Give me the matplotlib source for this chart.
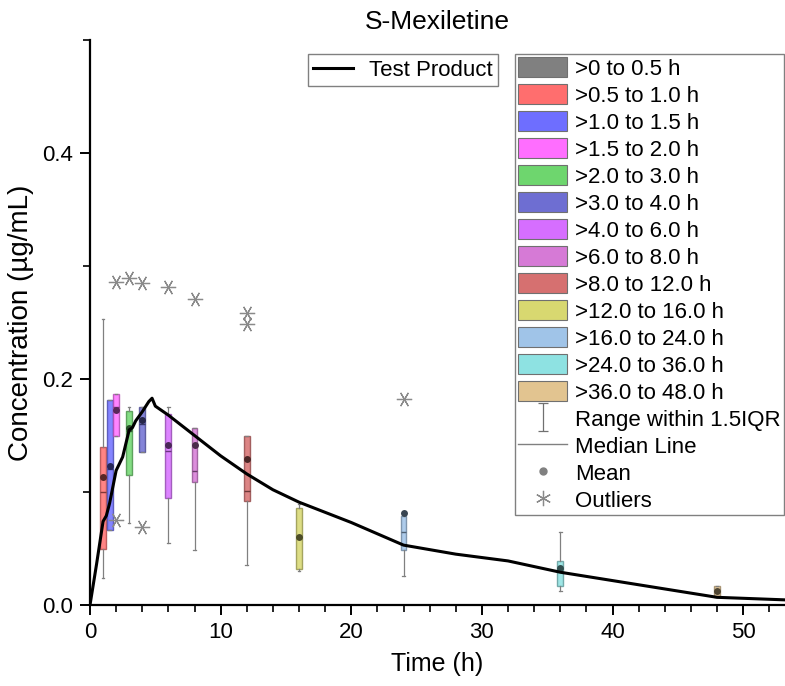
import numpy as np
import matplotlib
matplotlib.use("Agg")
import matplotlib.pyplot as plt
from matplotlib.patches import Patch
from matplotlib.lines import Line2D
from matplotlib.path import Path
from matplotlib.ticker import MultipleLocator

plt.rcParams['font.family'] = ['Liberation Sans', 'DejaVu Sans']

# Mean profile of the test product
t_line = [0, 0.5, 1, 1.25, 1.5, 2, 2.5, 3, 3.25, 3.5, 4, 4.5, 4.75, 5, 6, 8,
          10, 12, 14, 16, 20, 24, 28, 32, 36, 48, 54]
c_line = [0, 0.036, 0.074, 0.079, 0.090, 0.119, 0.131, 0.155, 0.157, 0.163, 0.171,
          0.180, 0.183, 0.176, 0.168, 0.150, 0.132, 0.116, 0.102, 0.091, 0.073,
          0.053, 0.045, 0.039, 0.029, 0.0068, 0.0042]

# Box statistics per time window
bin_labels = ['>0 to 0.5 h', '>0.5 to 1.0 h', '>1.0 to 1.5 h', '>1.5 to 2.0 h',
              '>2.0 to 3.0 h', '>3.0 to 4.0 h', '>4.0 to 6.0 h', '>6.0 to 8.0 h',
              '>8.0 to 12.0 h', '>12.0 to 16.0 h', '>16.0 to 24.0 h',
              '>24.0 to 36.0 h', '>36.0 to 48.0 h']
bin_colors = ['#808080', '#ff6e6e', '#6e6eff', '#ff6eff', '#6ed66e', '#6e6ed2',
              '#d66eff', '#d67ad6', '#d67070', '#d8d870', '#a0c4e8', '#8ee2e2',
              '#e2c490']

box_t = [1, 1.5, 2, 3, 4, 6, 8, 12, 16, 24, 36, 48]
box_q1 = [0.050, 0.066, 0.150, 0.115, 0.135, 0.095, 0.109, 0.092, 0.032, 0.0485, 0.017, 0.0073]
box_q3 = [0.140, 0.181, 0.187, 0.172, 0.175, 0.169, 0.157, 0.150, 0.086, 0.0785, 0.039, 0.0168]
box_med = [0.100, 0.120, 0.175, 0.154, 0.160, 0.136, 0.119, 0.101, 0.060, 0.065, 0.032, 0.012]
box_mean = [0.113, 0.123, 0.173, 0.157, 0.164, 0.142, 0.142, 0.129, 0.060, 0.081, 0.033, 0.012]
box_lo = [0.024, 0.066, 0.150, 0.073, 0.135, 0.055, 0.049, 0.035, 0.030, 0.026, 0.012, 0.0073]
box_hi = [0.253, 0.181, 0.187, 0.175, 0.175, 0.175, 0.157, 0.150, 0.089, 0.082, 0.065, 0.0168]
box_out = [[], [], [0.286, 0.075], [0.289], [0.285, 0.069], [0.281], [0.271],
           [0.258, 0.249], [], [0.182], [], []]

fig = plt.figure(figsize=(7.85, 6.86), dpi=100)
ax = fig.add_axes([90/785, 1 - 605/686, 695/785, 565/686])

stats = []
for i in range(len(box_t)):
    stats.append(dict(med=box_med[i], q1=box_q1[i], q3=box_q3[i],
                      whislo=box_lo[i], whishi=box_hi[i], mean=box_mean[i],
                      fliers=box_out[i]))

bp = ax.bxp(stats, positions=box_t, widths=0.45, patch_artist=True,
            showmeans=True, manage_ticks=False, capwidths=0.2,
            whiskerprops=dict(color='#808080', lw=0.9),
            capprops=dict(color='#808080', lw=0.9),
            flierprops=dict(marker=(6, 2, 90), markersize=11, markeredgecolor='#8a8a8a',
                            markeredgewidth=0.9, linestyle='none'),
            meanprops=dict(marker='o', markersize=5, markeredgecolor='none'))

for i, box in enumerate(bp['boxes']):
    col = np.array(matplotlib.colors.to_rgb(bin_colors[i + 1]))
    box.set_facecolor(col)
    box.set_alpha(0.85)
    box.set_edgecolor(col * 0.7)
    box.set_linewidth(1.0)
    bp['medians'][i].set_color(col * 0.5)
    bp['medians'][i].set_linewidth(1.0)
    bp['means'][i].set_markerfacecolor(col * 0.35)

ax.plot(t_line, c_line, color='black', lw=2.2, zorder=5)

ax.set_xlim(0, 53.2)
ax.set_ylim(0, 0.5)
ax.xaxis.set_major_locator(MultipleLocator(10))
ax.xaxis.set_minor_locator(MultipleLocator(2))
ax.yaxis.set_major_locator(MultipleLocator(0.2))
ax.yaxis.set_minor_locator(MultipleLocator(0.1))
ax.spines['top'].set_visible(False)
ax.spines['right'].set_visible(False)
for s in ['left', 'bottom']:
    ax.spines[s].set_linewidth(1.6)
ax.tick_params(which='major', length=7, width=1.4, labelsize=16, pad=5)
ax.tick_params(which='minor', length=5, width=1.2)

ax.set_title('S-Mexiletine', fontsize=19, pad=8)
ax.set_xlabel('Time (h)', fontsize=18, labelpad=7)
ax.set_ylabel('Concentration (µg/mL)', fontsize=20, labelpad=6)

fig.legend([Line2D([], [], color='black', lw=2.2)], ['Test Product'],
           loc='upper right', bbox_to_anchor=(498/785, 1 - 54/686),
           fontsize=16, fancybox=False, framealpha=1, edgecolor='#808080',
           handlelength=1.8, borderpad=0.25, borderaxespad=0,
           handletextpad=0.7)

ibeam = Path([(-0.35, -1), (0.35, -1), (0, -1), (0, 1), (-0.35, 1), (0.35, 1)],
             [Path.MOVETO, Path.LINETO, Path.MOVETO, Path.LINETO, Path.MOVETO, Path.LINETO])
handles = [Patch(facecolor=c, edgecolor='#707070', lw=0.8) for c in bin_colors]
handles += [Line2D([], [], marker=ibeam, markersize=20, linestyle='none',
                   markerfacecolor='none', markeredgecolor='#707070', markeredgewidth=0.9),
            Line2D([], [], color='#808080', lw=1.0),
            Line2D([], [], marker='o', markersize=5, color='#808080', linestyle='none'),
            Line2D([], [], marker=(6, 2, 0), markersize=11, markeredgecolor='#8a8a8a',
                   markeredgewidth=0.9, linestyle='none')]
labels = bin_labels + ['Range within 1.5IQR', 'Median Line', 'Mean', 'Outliers']
fig.legend(handles, labels, loc='upper left', bbox_to_anchor=(515/785, 1 - 54/686),
           fontsize=16, fancybox=False, framealpha=1, edgecolor='#808080',
           handlelength=2.2, handleheight=1.0, labelspacing=0.2, borderpad=0.15,
           borderaxespad=0, handletextpad=0.35)

fig.savefig('out.png', dpi=100)
